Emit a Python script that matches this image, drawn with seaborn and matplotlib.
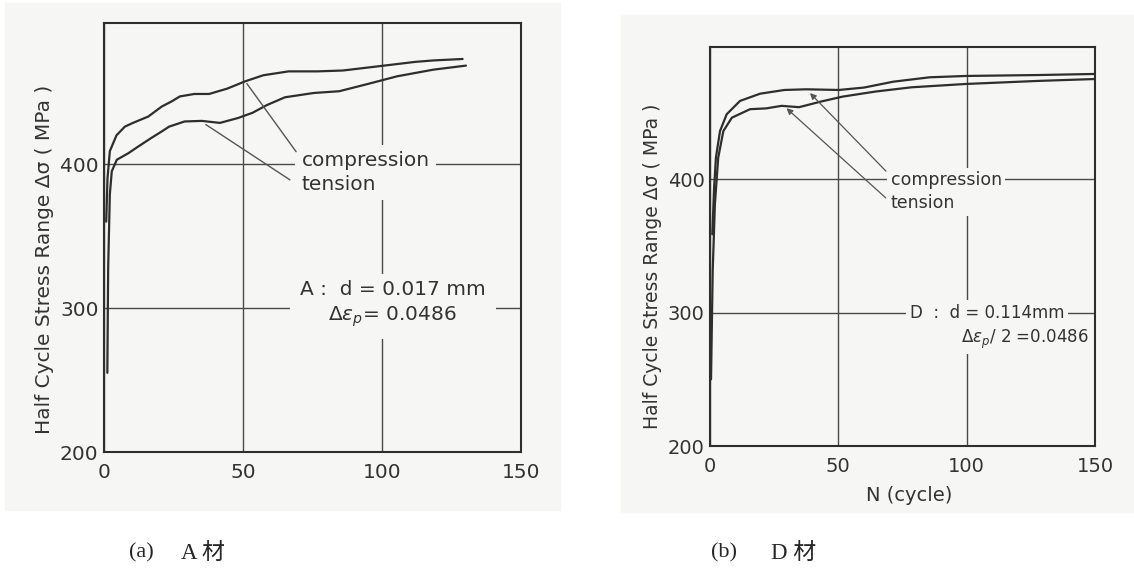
import numpy as np
import pandas as pd
import matplotlib
matplotlib.use("Agg")
import matplotlib.pyplot as plt
from matplotlib.patches import Rectangle
import seaborn as sns

# Panel (a): material A, d = 0.017 mm
a_comp_n = [0.8, 1.25, 2.1, 4.5, 7.5, 10.4, 15.9, 20.8, 24.3, 27.3, 32.5, 37.8,
            44.3, 50.8, 57.3, 66.4, 76.8, 85.9, 99, 112, 118.5, 129]
a_comp_s = [360, 390, 409, 420, 426, 428.6, 433, 440, 443.5, 447, 448.7, 448.7,
            452.4, 457.5, 461.7, 464.4, 464.4, 465, 468, 471, 472, 473]
a_tens_n = [1.2, 1.5, 2.1, 2.8, 4.6, 8.8, 12.4, 16.9, 20.8, 23.4, 29, 35.2, 41.7,
            48.2, 53.4, 58.6, 65.1, 75.5, 84.6, 95, 105.5, 118.5, 130.2]
a_tens_s = [255, 328, 379, 395, 403, 407.6, 412.3, 418, 422.7, 426, 429.6, 430,
            428.6, 432, 435.6, 441, 446.4, 449.4, 450.6, 455.7, 461, 465.6, 468.4]

# Panel (b): material D, d = 0.114 mm
b_comp_n = [0.9, 1.6, 2.3, 3.9, 6.5, 11.7, 19.5, 29, 37.5, 50.2, 60, 71.4, 85.6,
            99.7, 128, 150]
b_comp_s = [358.7, 393.6, 416, 436, 448.6, 458.6, 464, 466.8, 467.3, 466.8, 468.6,
            473, 476.3, 477.3, 478, 478.8]
b_tens_n = [0.4, 1.05, 1.9, 3.2, 5.2, 8.5, 15.6, 21.9, 27.9, 34.7, 43, 51.6, 64.4,
            78.5, 99.7, 128, 150]
b_tens_s = [250, 331, 381, 416, 436, 446, 452.4, 453, 454.9, 453.9, 458, 461.8,
            465.6, 468.8, 471.3, 473.6, 475]

y_ticks = [200, 300, 400]
x_ticks = [0, 50, 100, 150]

paper = "#f6f6f4"
ink = "#2e2e2e"

sns.set_style("white")
plt.rcParams["font.family"] = ["DejaVu Sans"]
plt.rcParams["mathtext.fontset"] = "dejavusans"

fig = plt.figure(figsize=(11.34, 5.71), dpi=100)
W, H = 1134, 571

# scanned paper areas
fig.patches.append(Rectangle((5 / W, 1 - 510 / H), 555 / W, 507 / H,
                             transform=fig.transFigure, color=paper, zorder=-5))
fig.patches.append(Rectangle((621 / W, 1 - 512 / H), 513 / W, 497 / H,
                             transform=fig.transFigure, color=paper, zorder=-5))

ax_a = fig.add_axes([104 / W, 1 - 452 / H, 417 / W, 429 / H])
ax_b = fig.add_axes([710 / W, 1 - 446 / H, 385 / W, 399 / H])


def style_axis(ax, top, tick_size):
    ax.set_facecolor(paper)
    ax.set_xlim(0, 150)
    ax.set_ylim(200, top)
    ax.set_xticks(x_ticks)
    ax.set_yticks(y_ticks)
    ax.grid(True, color="#4a4a4a", lw=1.0)
    ax.set_axisbelow(True)
    for sp in ax.spines.values():
        sp.set_color(ink)
        sp.set_linewidth(1.5)
    ax.tick_params(axis="both", length=0, labelsize=tick_size, colors="#333333")
    ax.tick_params(axis="x", pad=8)
    ax.tick_params(axis="y", pad=4)


def draw_curves(ax, n1, s1, n2, s2):
    sns.lineplot(x=n1, y=s1, ax=ax, sort=False, estimator=None, color=ink, lw=1.6)
    sns.lineplot(x=n2, y=s2, ax=ax, sort=False, estimator=None, color=ink, lw=1.6)


# ---- panel (a)
style_axis(ax_a, 498, 14.5)
draw_curves(ax_a, a_comp_n, a_comp_s, a_tens_n, a_tens_s)
ax_a.set_ylabel("Half Cycle Stress Range Δσ ( MPa )", fontsize=14.5, color="#333333")
ax_a.yaxis.set_label_coords(-0.12, 0.449)
ax_a.set_xlabel("")

box = dict(boxstyle="square,pad=0.3", fc=paper, ec="none")
ax_a.text(71, 394, "compression\ntension", fontsize=14.5, ha="left", va="center",
          linespacing=1.3, color="#333333", bbox=box, zorder=3)
ax_a.annotate("", xy=(50.8, 457.5), xytext=(69.7, 407),
              arrowprops=dict(arrowstyle="-", color="#555555", lw=1.0))
ax_a.annotate("", xy=(35.8, 428.5), xytext=(67.7, 388),
              arrowprops=dict(arrowstyle="-", color="#555555", lw=1.0))
ax_a.text(103.8, 302.5, "A :  d = 0.017 mm\n$\\Delta\\varepsilon_p$= 0.0486",
          fontsize=14.5, ha="center", va="center", multialignment="center",
          linespacing=1.35, color="#333333",
          bbox=dict(boxstyle="square,pad=0.5", fc=paper, ec="none"), zorder=3)

# ---- panel (b)
style_axis(ax_b, 499, 14)
draw_curves(ax_b, b_comp_n, b_comp_s, b_tens_n, b_tens_s)
ax_b.set_ylabel("Half Cycle Stress Range Δσ ( MPa )", fontsize=13.5, color="#333333")
ax_b.yaxis.set_label_coords(-0.125, 0.45)
ax_b.set_xlabel("N (cycle)", fontsize=14, color="#333333")
ax_b.xaxis.set_label_coords(0.517, -0.1)

box_b = dict(boxstyle="square,pad=0.2", fc=paper, ec="none")
ax_b.text(70.4, 390.5, "compression\ntension", fontsize=12.5, ha="left", va="center",
          linespacing=1.35, color="#333333", bbox=box_b, zorder=3)
arrow_b = dict(arrowstyle="-|>", color="#555555", lw=0.9, mutation_scale=9)
ax_b.annotate("", xy=(38.2, 466), xytext=(69.3, 404.5), arrowprops=arrow_b)
ax_b.annotate("", xy=(29, 454.5), xytext=(69.3, 384.5), arrowprops=arrow_b)
ax_b.text(77.8, 299.8, "D  :  d = 0.114mm", fontsize=12, ha="left", va="center",
          color="#333333", bbox=box_b, zorder=3)
ax_b.text(97.6, 279.8, "$\\Delta\\varepsilon_p$/ 2 =0.0486", fontsize=12, ha="left",
          va="center", color="#333333", bbox=box_b, zorder=3)

# captions
cap_font = ["Liberation Serif", "Noto Sans CJK JP"]
fig.text(141 / W, 1 - 553 / H, "(a)", fontsize=16, family=cap_font, ha="center", va="center")
fig.text(181 / W, 1 - 553 / H, "A 材", fontsize=16.5, family=cap_font, ha="left", va="center")
fig.text(724 / W, 1 - 553 / H, "(b)", fontsize=16, family=cap_font, ha="center", va="center")
fig.text(771 / W, 1 - 553 / H, "D 材", fontsize=16.5, family=cap_font, ha="left", va="center")

fig.savefig("out.png", dpi=100, facecolor="white")
